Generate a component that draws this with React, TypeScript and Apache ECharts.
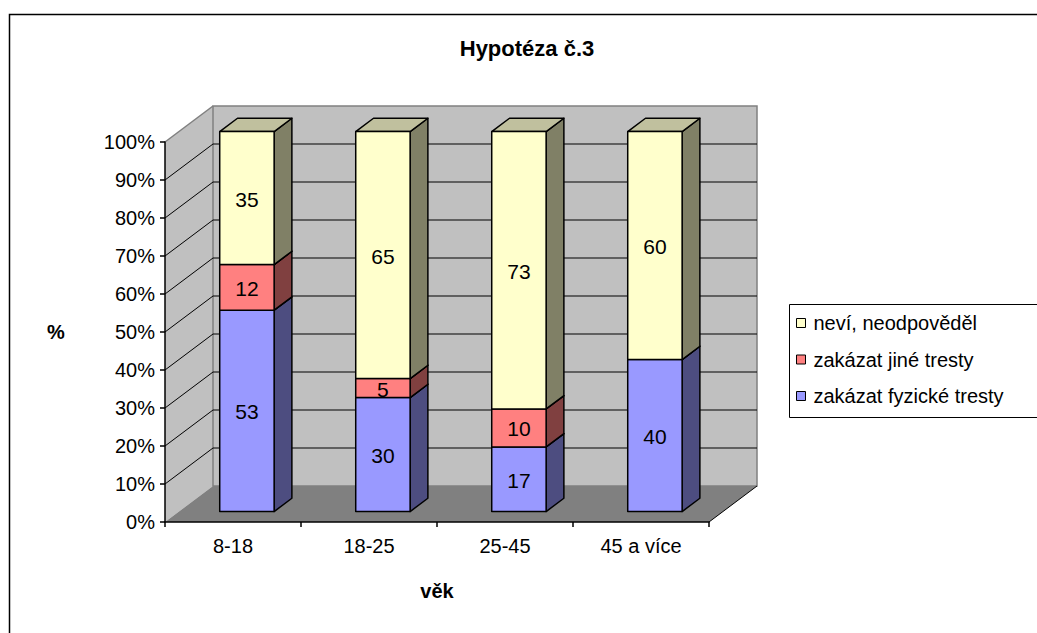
import React, { useEffect, useRef } from 'react';
import * as echarts from 'echarts';

const categories = ['8-18', '18-25', '25-45', '45 a více'];
const fyzicke = [53, 30, 17, 40];
const jine = [12, 5, 10, 0];
const nevi = [35, 65, 73, 60];
const yTickValues = [0, 10, 20, 30, 40, 50, 60, 70, 80, 90, 100];

const seriesNames = ['zakázat fyzické tresty', 'zakázat jiné tresty', 'neví, neodpověděl'];
const seriesValues = [fyzicke, jine, nevi];
const legendOrder = ['neví, neodpověděl', 'zakázat jiné tresty', 'zakázat fyzické tresty'];

const FONT = 'Liberation Sans, Arial, sans-serif';
const frontColors = ['#9999FF', '#FF8080', '#FFFFCC'];
const sideColors = ['#4D4D80', '#804040', '#808066'];
const topColors = ['#7373BF', '#BF6060', '#C0C09E'];
const DX = 48;
const DY = -36;
const F0 = 0.29;
const F1 = 0.66;

function buildStacked() {
  const bases = categories.map(() => 0);
  return seriesValues.map((vals) =>
    vals.map((v, i) => {
      const b = bases[i];
      bases[i] += v;
      return [i, b, b + v, v];
    })
  );
}

export default function App() {
  const ref = useRef<HTMLDivElement>(null);
  useEffect(() => {
    if (!ref.current) return;
    const chart = echarts.init(ref.current, null, { renderer: 'svg' });
    const stacked = buildStacked();

    const barSeries = stacked.map((data, si) => ({
      type: 'custom',
      name: seriesNames[si],
      z: 2,
      itemStyle: { color: frontColors[si], borderColor: '#000', borderWidth: 1 },
      data,
      renderItem: (params: any, api: any) => {
        const cat = api.value(0);
        const base = api.value(1);
        const top = api.value(2);
        const val = api.value(3);
        if (!(val > 0)) return { type: 'group', children: [] };
        const pB = api.coord([cat, base]);
        const pT = api.coord([cat, top]);
        const band = api.size([1, 0])[0];
        const w = band * 0.4;
        const ox = DX * F0, oy = DY * F0;
        const sx = DX * (F1 - F0), sy = DY * (F1 - F0);
        const xL = pB[0] - w / 2 + ox;
        const xR = xL + w;
        const yB = pB[1] + oy;
        const yT = pT[1] + oy;
        const stroke = { stroke: '#000', lineWidth: 1.5, lineJoin: 'round' };
        return {
          type: 'group',
          children: [
            {
              type: 'polygon',
              shape: { points: [[xR, yB], [xR, yT], [xR + sx, yT + sy], [xR + sx, yB + sy]] },
              style: { fill: sideColors[si], ...stroke },
            },
            {
              type: 'polygon',
              shape: { points: [[xL, yT], [xR, yT], [xR + sx, yT + sy], [xL + sx, yT + sy]] },
              style: { fill: topColors[si], ...stroke },
            },
            {
              type: 'rect',
              shape: { x: xL, y: yT, width: w, height: yB - yT },
              style: { fill: frontColors[si], ...stroke },
            },
            {
              type: 'text',
              x: (xL + xR) / 2,
              y: (yB + yT) / 2 + 1,
              style: {
                text: String(val),
                fontSize: 21,
                fontFamily: FONT,
                fill: '#000',
                align: 'center',
                verticalAlign: 'middle',
              },
            },
          ],
        };
      },
    }));

    const wallSeries = {
      type: 'custom',
      name: 'walls',
      z: 1,
      silent: true,
      data: [[0, 0]],
      renderItem: (params: any, api: any) => {
        const cs = params.coordSys;
        const L = cs.x, R = cs.x + cs.width, T = cs.y, B = cs.y + cs.height;
        const children: any[] = [
          {
            type: 'polygon',
            shape: { points: [[L, B], [L, T], [L + DX, T + DY], [L + DX, B + DY]] },
            style: { fill: '#C0C0C0' },
          },
          {
            type: 'rect',
            shape: { x: L + DX, y: T + DY, width: R - L, height: B - T },
            style: { fill: '#C0C0C0', stroke: '#808080', lineWidth: 1.5 },
          },
          {
            type: 'polygon',
            shape: { points: [[L, B], [R, B], [R + DX, B + DY], [L + DX, B + DY]] },
            style: { fill: '#808080' },
          },
          {
            type: 'line',
            shape: { x1: R, y1: B, x2: R + DX, y2: B + DY },
            style: { stroke: '#000', lineWidth: 1 },
          },
          {
            type: 'line',
            shape: { x1: L, y1: T, x2: L + DX, y2: T + DY },
            style: { stroke: '#808080', lineWidth: 1.5 },
          },
        ];
        yTickValues.forEach((v) => {
          if (v === 0 || v === 100) return;
          const y = api.coord([0, v])[1];
          children.push({
            type: 'line',
            shape: { x1: L, y1: y, x2: L + DX, y2: y + DY },
            style: { stroke: '#000', lineWidth: 1 },
          });
          children.push({
            type: 'line',
            shape: { x1: L + DX, y1: y + DY, x2: R + DX, y2: y + DY },
            style: { stroke: '#000', lineWidth: 1 },
          });
        });
        return { type: 'group', children };
      },
    };

    chart.setOption({
      animation: false,
      backgroundColor: '#fff',
      grid: { left: 165, top: 142, width: 544, height: 380, containLabel: false },
      xAxis: {
        type: 'category',
        data: categories,
        z: 3,
        axisLine: { show: true, lineStyle: { color: '#000', width: 1.5 } },
        axisTick: { show: true, length: 5, lineStyle: { color: '#000', width: 1.5 } },
        axisLabel: { fontSize: 20, fontFamily: FONT, color: '#000', margin: 14 },
        splitLine: { show: false },
      },
      yAxis: {
        type: 'value',
        min: 0,
        max: 100,
        interval: 10,
        z: 3,
        axisLine: { show: true, lineStyle: { color: '#000', width: 1.5 } },
        axisTick: { show: true, length: 5, lineStyle: { color: '#000', width: 1.5 } },
        axisLabel: { fontSize: 20, fontFamily: FONT, color: '#000', margin: 10, formatter: '{value}%' },
        splitLine: { show: false },
      },
      legend: {
        orient: 'vertical',
        left: 796,
        top: 313,
        padding: 0,
        itemWidth: 9,
        itemHeight: 9,
        itemGap: 16.5,
        icon: 'rect',
        selectedMode: false,
        data: legendOrder,
        itemStyle: { borderColor: '#000', borderWidth: 1 },
        textStyle: { fontSize: 20, fontFamily: FONT, color: '#000', padding: [0, 0, 0, 3] },
      },
      graphic: [
        {
          type: 'rect',
          silent: true,
          shape: { x: 9.5, y: 14.5, width: 1100, height: 700 },
          style: { fill: 'none', stroke: '#000', lineWidth: 1.5 },
        },
        {
          type: 'rect',
          silent: true,
          shape: { x: 789.5, y: 304.5, width: 260, height: 113 },
          style: { fill: 'none', stroke: '#000', lineWidth: 1 },
        },
        {
          type: 'text',
          x: 527,
          y: 48,
          style: {
            text: 'Hypotéza č.3',
            fontSize: 22,
            fontWeight: 'bold',
            fontFamily: FONT,
            fill: '#000',
            align: 'center',
            verticalAlign: 'middle',
          },
        },
        {
          type: 'text',
          x: 56,
          y: 332,
          style: {
            text: '%',
            fontSize: 20,
            fontWeight: 'bold',
            fontFamily: FONT,
            fill: '#000',
            align: 'center',
            verticalAlign: 'middle',
          },
        },
        {
          type: 'text',
          x: 437,
          y: 591,
          style: {
            text: 'věk',
            fontSize: 20,
            fontWeight: 'bold',
            fontFamily: FONT,
            fill: '#000',
            align: 'center',
            verticalAlign: 'middle',
          },
        },
      ],
      series: [wallSeries, ...barSeries],
    });
    return () => chart.dispose();
  }, []);
  return (
    <div
      ref={ref}
      style={{ position: 'absolute', left: 0, top: 0, width: 1037, height: 633, background: '#fff' }}
    />
  );
}
